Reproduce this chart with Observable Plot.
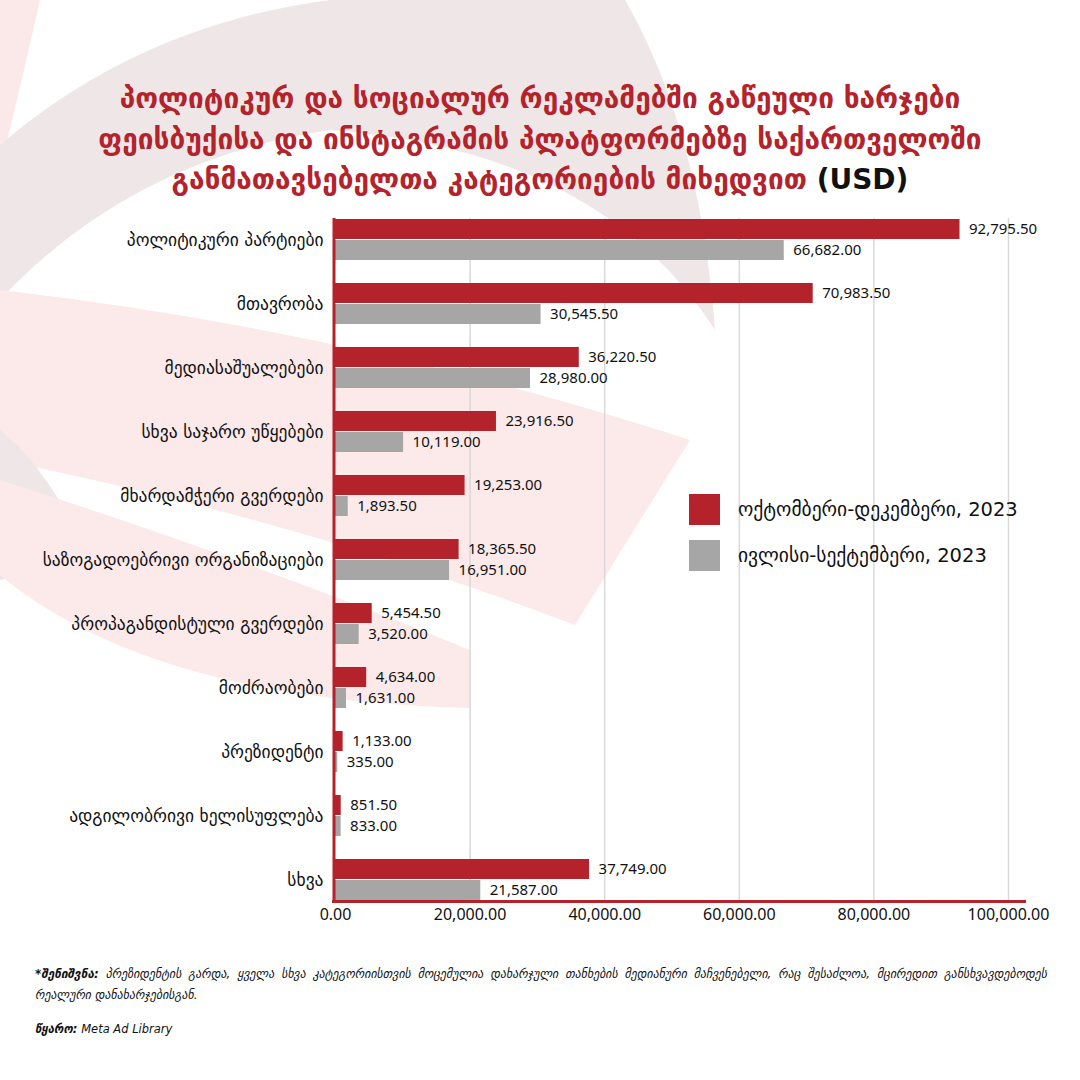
<!DOCTYPE html>
<html>
<head>
<meta charset="utf-8">
<script src="https://cdn.jsdelivr.net/npm/d3@7"></script>
<script src="https://cdn.jsdelivr.net/npm/@observablehq/plot@0.6"></script>
<style>
  html, body { margin: 0; padding: 0; background: #fff; }
  #page { position: relative; width: 1080px; height: 1080px; overflow: hidden; background: #fff; font-family: "DejaVu Sans", "Noto Sans", sans-serif; }
  #bg { position: absolute; left: 0; top: 0; }
  #title { position: absolute; left: 0; top: 79px; width: 1080px; text-align: center; color: #b4232b; font-family: "DejaVu Sans", sans-serif; font-weight: bold; font-size: 28px; line-height: 40.5px; }
  #title .usd { color: #111; }
  #chart { position: absolute; left: 0; top: 200px; }
  #legend { position: absolute; left: 689px; top: 494px; font-size: 19.5px; color: #111; }
  .li { display: flex; align-items: center; height: 31px; margin-bottom: 15px; }
  .sw { width: 31px; height: 31px; margin-right: 18px; }
  #note { position: absolute; left: 35px; top: 964px; width: 1012px; font-size: 11.9px; font-style: italic; color: #111; line-height: 21px; }
  #note .l1 { display: block; text-align: justify; text-align-last: justify; }
  #src { position: absolute; left: 35px; top: 1022px; font-size: 11.5px; font-style: italic; color: #111; }
</style>
</head>
<body>
<div id="page">
  <svg id="bg" width="1080" height="1080">
    <path d="M 0,0 L 40,0 Q 22,80 0,170 Z" fill="#fbe9e9"/>
    <path d="M 0,145 Q 140,25 330,0 L 625,0 Q 700,130 715,330 Q 600,150 330,130 Q 130,160 0,300 Z" fill="#efe7e7"/>
    <path d="M 0,290 Q 350,330 690,440 L 575,625 Q 300,520 0,460 Z" fill="#fce9e9"/>
    <path d="M 0,430 Q 50,470 90,560 L 0,580 Z" fill="#efe7e7"/>
    <path d="M 0,480 Q 250,560 470,650 L 470,708 Q 150,700 0,575 Z" fill="#fce9e9"/>
  </svg>
  <div id="title">პოლიტიკურ და სოციალურ რეკლამებში გაწეული ხარჯები<br>ფეისბუქისა და ინსტაგრამის პლატფორმებზე საქართველოში<br>განმათავსებელთა კატეგორიების მიხედვით <span class="usd">(USD)</span></div>
  <div id="chart"></div>
  <div id="legend"></div>
  <div id="note"><span class="l1"><b>*შენიშვნა:</b> პრეზიდენტის გარდა, ყველა სხვა კატეგორიისთვის მოცემულია დახარჯული თანხების მედიანური მაჩვენებელი, რაც შესაძლოა, მცირედით განსხვავდებოდეს</span>რეალური დანახარჯებისგან.</div>
  <div id="src"><b>წყარო:</b> Meta Ad Library</div>
</div>
<script>
const categories = [
  "პოლიტიკური პარტიები",
  "მთავრობა",
  "მედიასაშუალებები",
  "სხვა საჯარო უწყებები",
  "მხარდამჭერი გვერდები",
  "საზოგადოებრივი ორგანიზაციები",
  "პროპაგანდისტული გვერდები",
  "მოძრაობები",
  "პრეზიდენტი",
  "ადგილობრივი ხელისუფლება",
  "სხვა"
];
const octDec = [92795.5, 70983.5, 36220.5, 23916.5, 19253, 18365.5, 5454.5, 4634, 1133, 851.5, 37749];
const julSep = [66682, 30545.5, 28980, 10119, 1893.5, 16951, 3520, 1631, 335, 833, 21587];
const seriesNames = ["ოქტომბერი-დეკემბერი, 2023", "ივლისი-სექტემბერი, 2023"];
const seriesColors = ["#b4232b", "#a6a6a6"];
const xTicks = [0, 20000, 40000, 60000, 80000, 100000];

const fmt = d3.format(",.2f");
const red = seriesColors[0];
const rowsA = categories.map((c, i) => ({category: c, series: seriesNames[0], value: octDec[i]}));
const rowsB = categories.map((c, i) => ({category: c, series: seriesNames[1], value: julSep[i]}));

const numFont = "'Noto Sans', 'Open Sans', sans-serif";

const plot = Plot.plot({
  width: 1080,
  height: 740,
  marginTop: 18,
  marginBottom: 39,
  marginLeft: 335,
  marginRight: 72,
  style: {background: "transparent", fontFamily: "'DejaVu Sans', sans-serif", fontSize: "15px", color: "#111", overflow: "visible"},
  x: {domain: [xTicks[0], xTicks[xTicks.length - 1]], ticks: xTicks, tickFormat: fmt, tickSize: 0, tickPadding: 7, label: null},
  y: {domain: categories, paddingInner: 0.36, paddingOuter: 0, tickSize: 0, tickPadding: 12, label: null},
  color: {domain: seriesNames, range: seriesColors},
  marks: [
    Plot.ruleX(xTicks.slice(1), {stroke: "#d9d9d9", strokeWidth: 1.5}),
    Plot.barX(rowsA, {x: "value", y: "category", fill: "series", insetBottom: 21}),
    Plot.barX(rowsB, {x: "value", y: "category", fill: "series", insetTop: 21}),
    Plot.text(rowsA, {x: "value", y: "category", text: d => fmt(d.value), dy: -10.5, dx: 9, textAnchor: "start", fontSize: 15, fill: "#111", fontFamily: numFont}),
    Plot.text(rowsB, {x: "value", y: "category", text: d => fmt(d.value), dy: 10.5, dx: 9, textAnchor: "start", fontSize: 15, fill: "#111", fontFamily: numFont}),
    Plot.ruleX([0], {stroke: red, strokeWidth: 3, dx: -1.5}),
    (index, scales, values, dims) => {
      const y0 = dims.height - dims.marginBottom + 0.5;
      const line = d3.create("svg:line")
        .attr("x1", dims.marginLeft - 3)
        .attr("x2", scales.x(xTicks[xTicks.length - 1]) + 18)
        .attr("y1", y0).attr("y2", y0)
        .attr("stroke", red).attr("stroke-width", 3);
      return line.node();
    }
  ]
});
document.getElementById("chart").appendChild(plot);
const sel = d3.select(plot);
sel.selectAll("g[aria-label='x-axis tick label'] text, g[aria-label='x-axis'] text").style("font-family", numFont).style("font-size", "16px");
sel.selectAll("g[aria-label='y-axis tick label'] text, g[aria-label='y-axis'] text").style("font-size", "17.5px");

const legend = d3.select("#legend");
seriesNames.forEach((s, i) => {
  const row = legend.append("div").attr("class", "li");
  row.append("div").attr("class", "sw").style("background", seriesColors[i]);
  row.append("span").text(s);
});
</script>
</body>
</html>
